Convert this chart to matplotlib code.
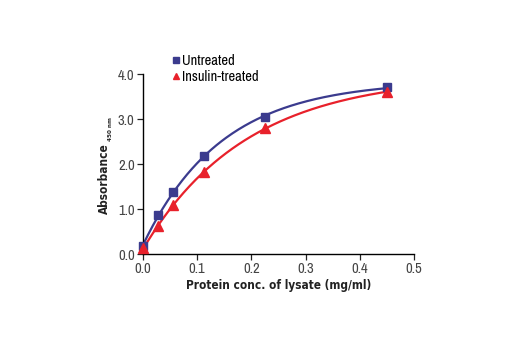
import numpy as np
import matplotlib
matplotlib.use('Agg')
import matplotlib.pyplot as plt

plt.rcParams['font.family'] = ['Archivo Narrow', 'DejaVu Sans']
plt.rcParams['font.stretch'] = 'condensed'

# Lysate concentration (mg/ml) and absorbance readings
conc = [0.0, 0.028, 0.056, 0.113, 0.225, 0.45]
untreated = [0.18, 0.87, 1.38, 2.19, 3.04, 3.71]
insulin = [0.13, 0.62, 1.09, 1.83, 2.81, 3.60]

blue = '#3b3b8e'
red = '#e8212b'
bold_font = dict(family='DejaVu Sans', stretch='condensed', weight='bold')


def fit_curve(x, y):
    # y = c + a*(1 - exp(-k x)), grid over k, least squares for a, c
    x = np.asarray(x)
    y = np.asarray(y)
    best = None
    for k in np.linspace(0.5, 30, 600):
        A = np.column_stack([1 - np.exp(-k * x), np.ones_like(x)])
        coef, res, _, _ = np.linalg.lstsq(A, y, rcond=None)
        err = np.sum((A @ coef - y) ** 2)
        if best is None or err < best[0]:
            best = (err, k, coef)
    _, k, (a, c) = best
    xs = np.linspace(0, x.max(), 200)
    return xs, c + a * (1 - np.exp(-k * xs))


fig = plt.figure(figsize=(5.2, 3.5), dpi=100)
ax = fig.add_axes([0.275, 0.274, 0.521, 0.514])

xs, ys = fit_curve(conc, untreated)
ax.plot(xs, ys, color=blue, lw=1.6)
xs, ys = fit_curve(conc, insulin)
ax.plot(xs, ys, color=red, lw=1.6)

ax.plot(conc, untreated, 's', color=blue, ms=6, clip_on=False, zorder=5, label='Untreated')
ax.plot(conc, insulin, '^', color=red, ms=6.5, clip_on=False, zorder=5, label='Insulin-treated')

ax.set_xlim(0, 0.5)
ax.set_ylim(0, 4.0)
ax.set_xticks([0, 0.1, 0.2, 0.3, 0.4, 0.5])
ax.set_xticklabels(['0.0', '0.1', '0.2', '0.3', '0.4', '0.5'])
ax.set_yticks([0, 1, 2, 3, 4])
ax.set_yticklabels(['0.0', '1.0', '2.0', '3.0', '4.0'])
ax.tick_params(labelsize=10.5, length=4, width=0.9, color='#222222', labelcolor='#444444', pad=2)
for s in ['top', 'right']:
    ax.spines[s].set_visible(False)
for s in ['left', 'bottom']:
    ax.spines[s].set_linewidth(1.0)

ax.set_xlabel('Protein conc. of lysate (mg/ml)', fontsize=8.5, labelpad=2,
              color='#222222', **bold_font)
fig.text(0.2, 0.49, 'Absorbance', rotation=90, fontsize=8.5,
         ha='center', va='center', color='#222222', **bold_font)
fig.text(0.212, 0.63, '450 nm', rotation=90, fontsize=4.5,
         ha='center', va='center', color='#222222', **bold_font)

ax.legend(loc='upper left', bbox_to_anchor=(0.11, 1.11), frameon=False, fontsize=10.5,
          handlelength=0.45, handletextpad=0.2, labelspacing=0.1, markerscale=0.7,
          borderaxespad=0, borderpad=0)

fig.savefig('out.png', dpi=100)
